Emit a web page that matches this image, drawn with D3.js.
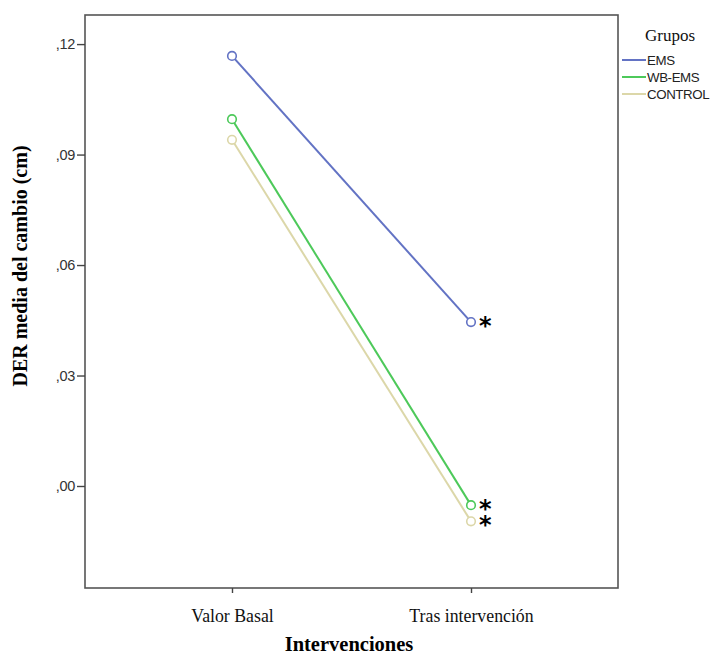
<!DOCTYPE html>
<html><head><meta charset="utf-8">
<script src="https://cdn.jsdelivr.net/npm/d3@7"></script>
<style>body{margin:0;background:#fff}</style>
</head><body>
<script>
const categories = ["Valor Basal", "Tras intervención"];
const groups = ["EMS", "WB-EMS", "CONTROL"];
const emsValues = [0.1168, 0.0445];
const wbemsValues = [0.0996, -0.0052];
const controlValues = [0.0940, -0.0096];
const colors = ["#6373c4", "#4dc95a", "#dcd7a9"];
const yTicks = [0, 0.03, 0.06, 0.09, 0.12];
const significant = [[false, true], [false, true], [false, true]];

const series = [emsValues, wbemsValues, controlValues];
const W = 712, H = 657;
const L = 85, R = 618, T = 15, B = 588;

const svg = d3.select("body").append("svg").attr("width", W).attr("height", H);

const x = d3.scalePoint().domain(categories).range([L, R]).padding(0.615);
const y = d3.scaleLinear().domain([-0.0277, 0.1279]).range([B, T]);

// frame
svg.append("rect").attr("x", L).attr("y", T).attr("width", R - L).attr("height", B - T)
  .attr("fill", "none").attr("stroke", "#555").attr("stroke-width", 1.6);

// y axis
const yAxis = svg.append("g").attr("transform", `translate(${L},0)`)
  .call(d3.axisLeft(y).tickValues(yTicks).tickSize(8).tickPadding(2)
    .tickFormat(d => d3.format(".2f")(d).replace("0.", ",").replace(".", ",")));
yAxis.select(".domain").remove();
yAxis.selectAll("line").attr("stroke", "#444").attr("stroke-width", 1.4);
yAxis.selectAll("text").attr("font-family", "Liberation Sans, Arial, sans-serif")
  .attr("font-size", 14.5).attr("fill", "#333").attr("letter-spacing", -0.3);

// x axis
const xAxis = svg.append("g").attr("transform", `translate(0,${B})`)
  .call(d3.axisBottom(x).tickSize(5).tickPadding(16));
xAxis.select(".domain").remove();
xAxis.selectAll("line").attr("stroke", "#444").attr("stroke-width", 1.4);
xAxis.selectAll("text").attr("font-family", "Liberation Serif, Times New Roman, serif")
  .attr("font-size", 17.8).attr("fill", "#111");

// titles
svg.append("text").attr("x", 349).attr("y", 651).attr("text-anchor", "middle")
  .attr("font-family", "Liberation Serif, Times New Roman, serif").attr("font-weight", "bold")
  .attr("font-size", 20.5).text("Intervenciones");
svg.append("text").attr("transform", "translate(27,266) rotate(-90)").attr("text-anchor", "middle")
  .attr("font-family", "Liberation Serif, Times New Roman, serif").attr("font-weight", "bold")
  .attr("font-size", 20).text("DER media del cambio (cm)");

// lines + points
const line = d3.line().x((d, i) => x(categories[i])).y(d => y(d));
series.forEach((vals, gi) => {
  svg.append("path").datum(vals).attr("d", line).attr("fill", "none")
    .attr("stroke", colors[gi]).attr("stroke-width", 2);
  svg.selectAll(null).data(vals).enter().append("circle")
    .attr("cx", (d, i) => x(categories[i])).attr("cy", d => y(d)).attr("r", 4.3)
    .attr("fill", "#fff").attr("stroke", colors[gi]).attr("stroke-width", 1.6);
  vals.forEach((v, i) => {
    if (significant[gi][i]) {
      svg.append("text").attr("x", x(categories[i]) + 8).attr("y", y(v) + 12)
        .attr("font-family", "DejaVu Sans, sans-serif").attr("font-weight", "bold")
        .attr("font-size", 24).attr("fill", "#000").text("*");
    }
  });
});

// legend
svg.append("text").attr("x", 670).attr("y", 41).attr("text-anchor", "middle")
  .attr("font-family", "Liberation Serif, Times New Roman, serif").attr("font-size", 17)
  .attr("fill", "#111").text("Grupos");
groups.forEach((g, gi) => {
  const ly = 60 + gi * 17;
  svg.append("line").attr("x1", 622).attr("x2", 646).attr("y1", ly).attr("y2", ly)
    .attr("stroke", colors[gi]).attr("stroke-width", 2);
  svg.append("text").attr("x", 647).attr("y", ly + 5)
    .attr("font-family", "Liberation Sans, Arial, sans-serif").attr("font-size", 13.3)
    .attr("fill", "#222").attr("letter-spacing", -0.4).text(g);
});
</script>
</body></html>
